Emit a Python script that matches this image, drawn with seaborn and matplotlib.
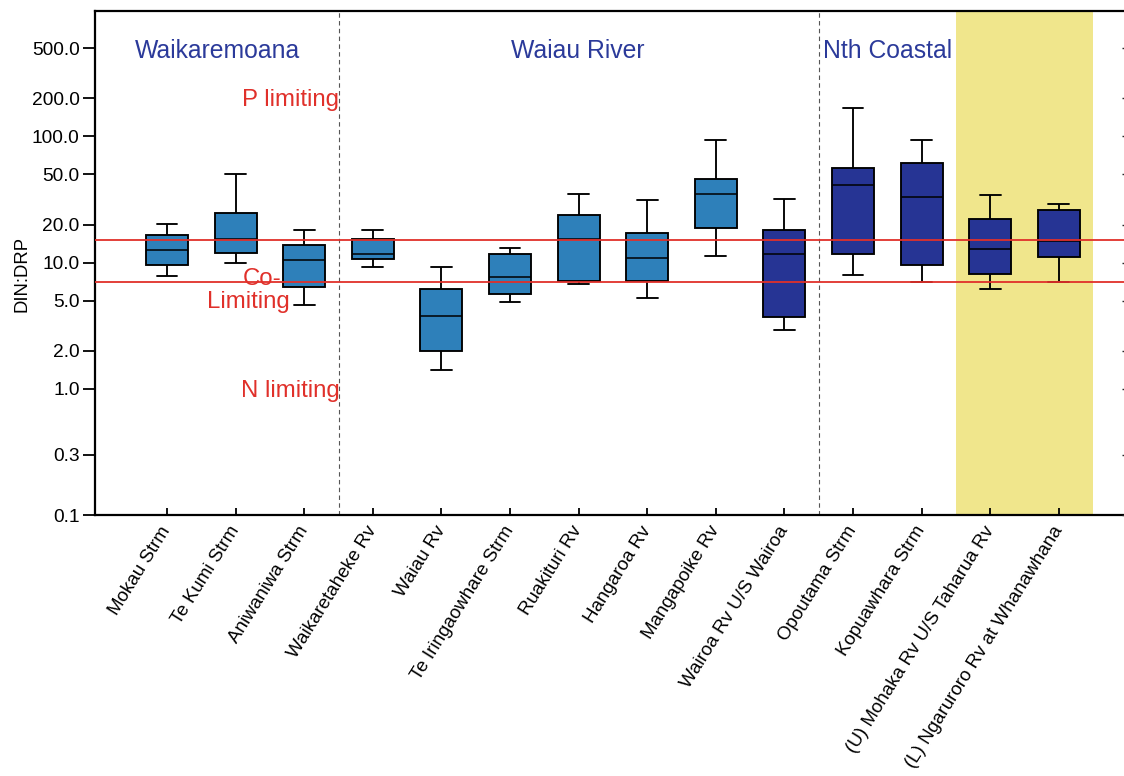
import numpy as np
import pandas as pd
import matplotlib
matplotlib.use("Agg")
import matplotlib.pyplot as plt
from matplotlib.ticker import NullLocator
import seaborn as sns

# ---------------- data ----------------
sites = ["Mokau Strm", "Te Kumi Strm", "Aniwaniwa Strm", "Waikaretaheke Rv",
         "Waiau Rv", "Te Iringaowhare Strm", "Ruakituri Rv", "Hangaroa Rv",
         "Mangapoike Rv", "Wairoa Rv U/S Wairoa", "Opoutama Strm",
         "Kopuawhara Strm", "(U) Mohaka Rv U/S Taharua Rv",
         "(L) Ngaruroro Rv at Whanawhana"]
whisker_low = [7.8, 9.9, 4.6, 9.3, 1.4, 4.9, 6.8, 5.2, 11.2, 2.9, 8.0, 7.0, 6.2, 7.0]
q1 =          [9.6, 11.9, 6.4, 10.6, 2.0, 5.6, 7.1, 7.1, 18.8, 3.7, 11.7, 9.6, 8.1, 11.0]
median =      [12.6, 15.3, 10.5, 11.7, 3.8, 7.7, 15.3, 10.9, 35.0, 11.6, 41.0, 33.0, 12.8, 14.9]
q3 =          [16.4, 24.6, 13.9, 15.5, 6.2, 11.6, 23.8, 17.1, 46.0, 18.2, 56.0, 61.0, 22.1, 26.1]
whisker_high = [20.2, 50.4, 18.1, 18.1, 9.2, 13.1, 35.2, 31.2, 94.0, 31.9, 169.0, 93.0, 34.4, 29.3]
site_type = ["light"] * 9 + ["dark"] * 5

group_names = ["Waikaremoana", "Waiau River", "Nth Coastal"]
limit_lines = [7, 15]
limit_texts = ["P limiting", "Co-", "Limiting", "N limiting"]
y_ticks = [0.1, 0.3, 1.0, 2.0, 5.0, 10.0, 20.0, 50.0, 100.0, 200.0, 500.0]
y_tick_labels = [f"{v:.1f}" for v in y_ticks]

# long-form table: the five summary values of every site
rows = []
for s, a, b, c, d, e in zip(sites, whisker_low, q1, median, q3, whisker_high):
    for v in (a, b, c, d, e):
        rows.append({"site": s, "value": v})
df = pd.DataFrame(rows)

# ---------------- style ----------------
sns.set_style("ticks")
plt.rcParams["font.family"] = ["Liberation Sans", "DejaVu Sans"]

LIGHT = "#2E80BA"
DARK = "#263494"
RED = "#E0302A"
LABEL_BLUE = "#2B3A9A"
palette = {s: (LIGHT if t == "light" else DARK) for s, t in zip(sites, site_type)}

W, H = 1124, 776
fig = plt.figure(figsize=(W / 100, H / 100), dpi=100)
ax = fig.add_axes([95 / W, 1 - 515 / H, (1126 - 95) / W, (515 - 11) / H])

ax.axvspan(11.5, 13.5, color="#F0E68C", lw=0, zorder=0)

sns.boxplot(data=df, x="site", y="value", hue="site", order=sites,
            hue_order=sites, palette=palette, saturation=1, whis=(0, 100),
            width=0.61, linecolor="black", linewidth=1.35, showfliers=False,
            log_scale=True, legend=False, dodge=False, ax=ax,
            medianprops={"linewidth": 1.1})

for v in limit_lines:
    ax.axhline(v, color=RED, lw=1.3, zorder=6)
for xv in (2.5, 9.5):
    ax.axvline(xv, color="#555555", lw=0.8, ls=(0, (4, 3)), zorder=1)

ax.set_yscale("log")
ax.set_ylim(0.1, 985)
ax.set_xlim(-1.05, 13.98)
ax.set_yticks(y_ticks, y_tick_labels)
ax.yaxis.set_minor_locator(NullLocator())
ax.set_xticks(range(len(sites)))
ax.set_xticklabels(sites, rotation=58, ha="right", va="center",
                   rotation_mode="anchor", fontsize=13.5)
ax.tick_params(axis="y", which="major", direction="out", length=9, width=1.3,
               pad=2, labelsize=13.8, colors="black")
ax.tick_params(axis="x", which="major", direction="in", length=5, width=1.3,
               pad=9, top=False, colors="black")
ax.set_xlabel("")
ax.set_ylabel("DIN:DRP", fontsize=13.3, color="black")
ax.yaxis.set_label_coords((31 - 95) / 1031, (515 - 274.5) / 504)
for sp in ax.spines.values():
    sp.set_linewidth(1.6)
    sp.set_color("black")

# right-hand inward ticks
ax2 = ax.twinx()
ax2.set_yscale("log")
ax2.set_ylim(ax.get_ylim())
ax2.set_yticks(y_ticks)
ax2.yaxis.set_minor_locator(NullLocator())
ax2.tick_params(axis="y", direction="in", length=3, width=1.0, labelright=False)
for sp in ax2.spines.values():
    sp.set_visible(False)

# group labels
ax.text(0.743, 418, group_names[0], color=LABEL_BLUE, fontsize=17.8,
        ha="center", va="baseline")
ax.text(5.99, 418, group_names[1], color=LABEL_BLUE, fontsize=17.8,
        ha="center", va="baseline")
ax.text(9.56, 418, group_names[2], color=LABEL_BLUE, fontsize=17.8,
        ha="left", va="baseline")

# limiting annotations
ax.text(2.507, 174, limit_texts[0], color=RED, fontsize=17.3, ha="right", va="baseline")
ax.text(1.11, 6.65, limit_texts[1], color=RED, fontsize=17.3, ha="left", va="baseline")
ax.text(0.58, 4.37, limit_texts[2], color=RED, fontsize=17.3, ha="left", va="baseline")
ax.text(2.52, 0.865, limit_texts[3], color=RED, fontsize=17.3, ha="right", va="baseline")

fig.savefig("out.png", dpi=100)
